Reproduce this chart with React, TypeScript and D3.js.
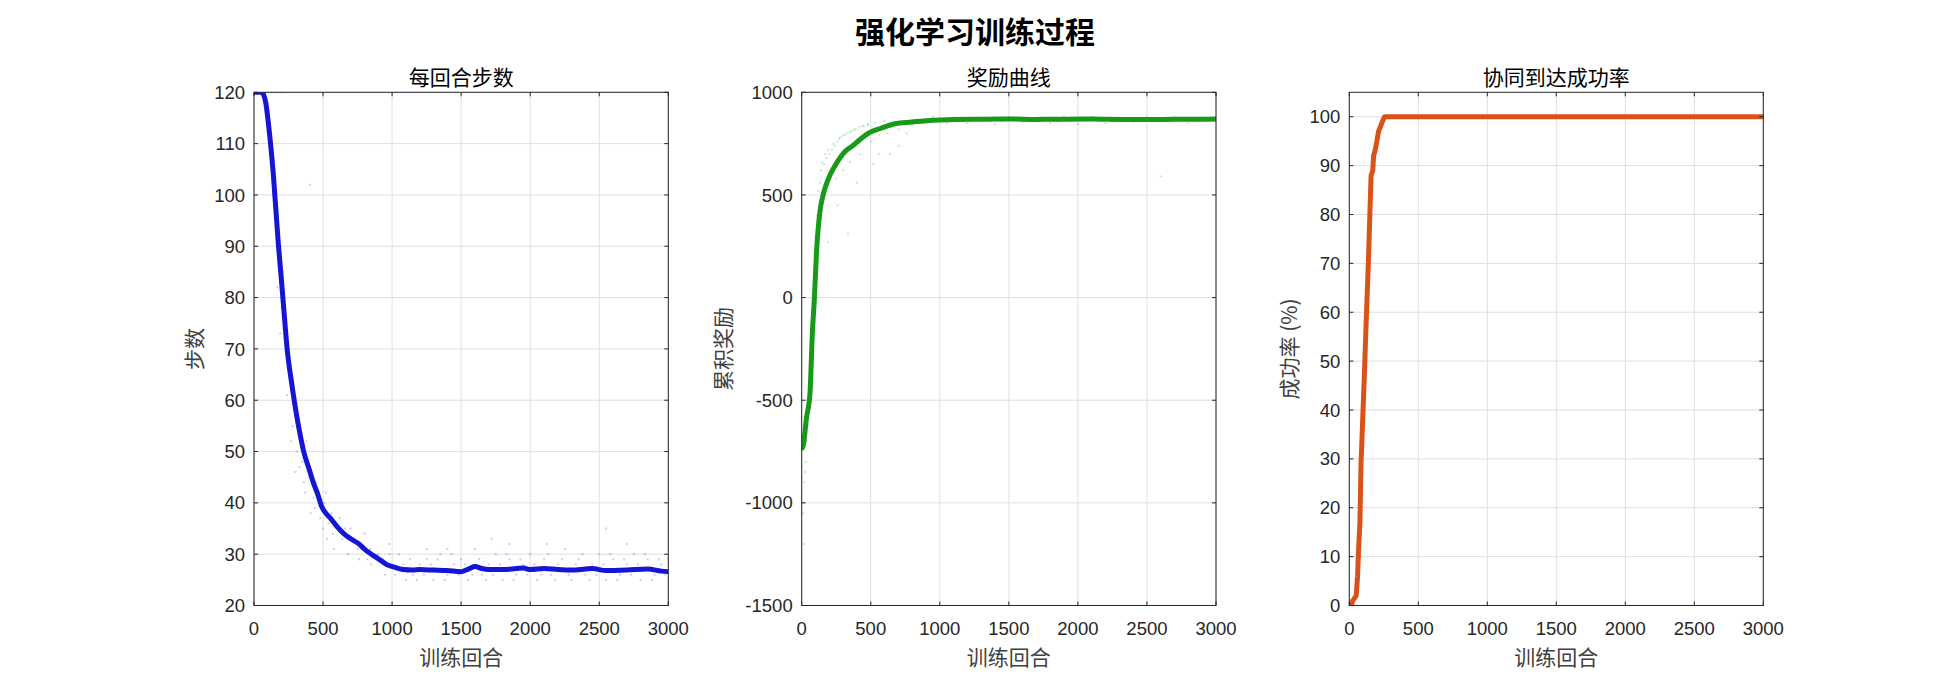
import * as d3 from "d3";

// episode axis shared by all three panels
const xTicks = [0, 500, 1000, 1500, 2000, 2500, 3000];

// 每回合步数 (moving average)
const stepsEp = [0, 55, 70, 85, 104, 140, 176, 200, 224, 240, 273, 309, 340, 357, 400, 429, 460, 490, 520, 560, 600, 650, 700, 760, 800, 850, 912, 960, 1000, 1081, 1150, 1200, 1300, 1400, 1500, 1560, 1600, 1650, 1700, 1800, 1900, 1950, 2000, 2100, 2200, 2300, 2400, 2450, 2550, 2700, 2850, 2950, 3000];
const stepsVal = [120, 120, 119.5, 118, 114, 104, 90.5, 83, 75, 70, 63.3, 57, 52.5, 50.3, 46.5, 44, 41.8, 39.3, 38, 36.8, 35.4, 34, 33, 32, 31, 30, 28.9, 28, 27.6, 27, 26.9, 27, 26.9, 26.8, 26.6, 27.2, 27.6, 27.2, 27, 27, 27.2, 27.3, 27, 27.2, 27, 26.9, 27.1, 27.2, 26.8, 26.9, 27.1, 26.7, 26.6];
const stepsTicks = [20, 30, 40, 50, 60, 70, 80, 90, 100, 110, 120];

// raw episode steps (faint dots)
const stepsRaw: [number, number][] = [
  [10, 120], [40, 120], [80, 120], [120, 120], [160, 120], [200, 120],
  [100, 112], [120, 108], [140, 100], [150, 105], [160, 97], [180, 93], [190, 88], [210, 85], [170, 82], [200, 78],
  [230, 75], [190, 73], [250, 68], [220, 72], [260, 66], [240, 61], [290, 60], [280, 55], [270, 52], [330, 54],
  [310, 50], [350, 48], [380, 52], [300, 46], [400, 45], [370, 42], [430, 41], [450, 44], [410, 38], [480, 37],
  [520, 42], [500, 35], [560, 38], [530, 33], [600, 36], [640, 33], [580, 31], [700, 35], [680, 30], [750, 31],
  [800, 34], [760, 29], [850, 28], [900, 30], [820, 29], [950, 26], [1000, 28], [1050, 30], [1100, 25], [1150, 26],
  [1200, 28], [1250, 29], [1300, 25], [1350, 30], [1400, 26], [1450, 28], [1500, 29], [1550, 25], [1600, 31],
  [1650, 26], [1700, 28], [1750, 30], [1800, 25], [1850, 29], [1900, 26], [1950, 28], [2000, 30], [2050, 25],
  [2100, 29], [2150, 26], [2200, 28], [2250, 31], [2300, 25], [2350, 29], [2400, 26], [2450, 28], [2500, 30],
  [2550, 25], [2600, 29], [2650, 26], [2700, 28], [2750, 30], [2800, 25], [2850, 29], [2900, 26], [2950, 28],
  [3000, 29], [1720, 33], [2550, 35], [1400, 31], [405, 102],
  [330, 47], [360, 44], [390, 47], [440, 39], [470, 42], [510, 40], [540, 36], [570, 34], [620, 37], [660, 35],
  [720, 33], [780, 32], [840, 31], [880, 30], [930, 29], [980, 30], [1020, 26], [1080, 28], [1130, 29],
  [1180, 25], [1230, 26], [1280, 28], [1330, 29], [1380, 25], [1430, 30], [1480, 26], [1530, 28], [1580, 26],
  [1630, 29], [1680, 25], [1730, 26], [1780, 28], [1830, 30], [1880, 25], [1930, 29], [1980, 26], [2030, 28],
  [2080, 26], [2130, 30], [2180, 25], [2230, 29], [2280, 26], [2330, 28], [2380, 30], [2430, 25], [2480, 26],
  [2530, 28], [2580, 30], [2630, 25], [2680, 29], [2730, 26], [2780, 28], [2830, 30], [2880, 25], [2930, 29],
  [2980, 26], [2120, 32], [1850, 32], [2700, 32], [1250, 31], [980, 32],
];

// 奖励曲线
const rewardEp = [1, 5, 36, 60, 77, 91, 108, 133, 157, 193, 241, 314, 374, 422, 482, 579, 676, 796, 950, 1100, 1300, 1500, 1700, 1900, 2100, 2300, 2500, 2700, 2900, 3000];
const rewardVal = [-730, -733, -580, -466, -175, -13, 230, 424, 505, 578, 642, 712, 742, 770, 800, 826, 847, 855, 864, 867, 869, 870, 868, 869, 870, 868, 867, 869, 869, 870];
const rewardTicks = [-1500, -1000, -500, 0, 500, 1000];

const rewardRaw: [number, number][] = [
  [5, -1000], [10, -1050], [20, -900], [15, -1200], [30, -800], [40, -700], [50, -560], [60, -420], [70, -300],
  [80, -100], [90, 100], [100, 300], [110, 400], [120, 520], [130, 560], [140, 620], [160, 650], [180, 680],
  [200, 700], [220, 720], [240, 740], [260, 760], [280, 780], [300, 790], [330, 800], [360, 810], [390, 820],
  [420, 830], [450, 835], [480, 840], [150, 420], [200, 540], [250, 580], [300, 620], [350, 660], [420, 700],
  [500, 760], [560, 790], [620, 800], [700, 820], [800, 840], [900, 850], [1000, 855], [1200, 850], [1400, 845],
  [1600, 855], [1800, 850], [2000, 845], [2200, 850], [2400, 855], [2600, 590], [2800, 850], [3000, 855],
  [950, 880], [1100, 880], [1300, 878], [1500, 880], [1700, 878], [1900, 882], [2100, 880], [2300, 878],
  [2500, 880], [2700, 880], [2900, 878], [640, 700], [700, 740], [520, 650],
  [145, 658], [170, 700], [190, 720], [230, 750], [270, 775], [314, 793], [350, 805], [380, 815], [440, 835],
  [480, 845], [530, 850], [600, 860], [190, 270], [335, 311], [260, 450], [400, 560], [560, 700], [760, 800],
  [1050, 850], [1250, 860], [1450, 858], [1650, 860], [1850, 858], [2050, 860], [2250, 858], [2450, 860],
  [2650, 858], [2850, 860], [25, -850], [45, -620],
];

// 协同到达成功率
const successEp = [0, 15, 25, 50, 60, 68, 77, 85, 101, 109, 121, 138, 150, 158, 170, 176, 186, 200, 212, 226, 240, 255, 3000];
const successVal = [0, 0, 1, 2, 6, 12, 17, 29, 41, 47, 57, 70, 81, 88, 89, 92, 93, 95, 97, 98, 99, 100, 100];
const successTicks = [0, 10, 20, 30, 40, 50, 60, 70, 80, 90, 100];

const W = 1950;
const H = 675;
const TOP = 92.3;
const BOTTOM = 605.5;
const AXIS = "#262626";
const NUM_FONT = "'Liberation Sans', Arial, sans-serif";
const CJK_FONT = "'Noto Sans CJK SC', sans-serif";

interface PanelProps {
  id: string;
  left: number;
  right: number;
  yDomain: [number, number];
  yTicks: number[];
  title: string;
  yLabel: string;
  yLabelX: number;
  ep: number[];
  val: number[];
  raw?: [number, number][];
  color: string;
  smooth?: boolean;
}

function Panel({ id, left, right, yDomain, yTicks, title, yLabel, yLabelX, ep, val, raw, color, smooth }: PanelProps) {
  const x = d3.scaleLinear().domain([0, 3000]).range([left, right]);
  const y = d3.scaleLinear().domain(yDomain).range([BOTTOM, TOP]);
  const pts = ep.map((e, i) => [e, val[i]] as [number, number]);
  const line = d3
    .line<[number, number]>()
    .x((d) => x(d[0]))
    .y((d) => y(d[1]))
    .curve(smooth ? d3.curveMonotoneX : d3.curveLinear);
  const mid = (TOP + BOTTOM) / 2;
  const tl = 4;

  return (
    <g>
      <defs>
        <clipPath id={id}>
          <rect x={left} y={TOP} width={right - left} height={BOTTOM - TOP} />
        </clipPath>
      </defs>
      {xTicks.map((t) => (
        <line key={"gx" + t} x1={x(t)} x2={x(t)} y1={TOP} y2={BOTTOM} stroke="#dfdfdf" strokeWidth={1} />
      ))}
      {yTicks.map((t) => (
        <line key={"gy" + t} x1={left} x2={right} y1={y(t)} y2={y(t)} stroke="#dfdfdf" strokeWidth={1} />
      ))}
      <g clipPath={`url(#${id})`}>
        {raw?.map((d, i) => (
          <rect key={i} x={x(d[0]) - 1} y={y(d[1]) - 1} width={2} height={2} fill={color} opacity={0.22} />
        ))}
        <path d={line(pts) ?? ""} fill="none" stroke={color} strokeWidth={5} strokeLinejoin="round" strokeLinecap="round" />
      </g>
      <rect x={left} y={TOP} width={right - left} height={BOTTOM - TOP} fill="none" stroke={AXIS} strokeWidth={1} />
      {xTicks.map((t) => (
        <g key={"tx" + t}>
          <line x1={x(t)} x2={x(t)} y1={BOTTOM} y2={BOTTOM - tl} stroke={AXIS} />
          <line x1={x(t)} x2={x(t)} y1={TOP} y2={TOP + tl} stroke={AXIS} />
          <text x={x(t)} y={BOTTOM + 29} textAnchor="middle" fontFamily={NUM_FONT} fontSize={18.5} fill={AXIS}>
            {t}
          </text>
        </g>
      ))}
      {yTicks.map((t) => (
        <g key={"ty" + t}>
          <line x1={left} x2={left + tl} y1={y(t)} y2={y(t)} stroke={AXIS} />
          <line x1={right} x2={right - tl} y1={y(t)} y2={y(t)} stroke={AXIS} />
          <text x={left - 9} y={y(t) + 6.6} textAnchor="end" fontFamily={NUM_FONT} fontSize={18.5} fill={AXIS}>
            {t}
          </text>
        </g>
      ))}
      <text x={(left + right) / 2} y={84.7} textAnchor="middle" fontFamily={CJK_FONT} fontSize={21} fill="#000">
        {title}
      </text>
      <text x={(left + right) / 2} y={665} textAnchor="middle" fontFamily={CJK_FONT} fontSize={21} fill="#404040">
        训练回合
      </text>
      <text
        transform={`translate(${yLabelX + 8},${mid}) rotate(-90)`}
        textAnchor="middle"
        fontFamily={CJK_FONT}
        fontSize={21}
        fill="#404040"
      >
        {yLabel}
      </text>
    </g>
  );
}

export default function App() {
  return (
    <svg width={W} height={H} style={{ position: "absolute", left: 0, top: 0, background: "#fff" }}>
      <rect width={W} height={H} fill="#fff" />
      <text x={975} y={43} textAnchor="middle" fontFamily={CJK_FONT} fontSize={30} fontWeight={600} fill="#000">
        强化学习训练过程
      </text>
      <Panel id="c1" left={254} right={668.3} yDomain={[20, 120]} yTicks={stepsTicks} title="每回合步数" yLabel="步数" yLabelX={194} ep={stepsEp} val={stepsVal} raw={stepsRaw} color="#1515d6" smooth />
      <Panel id="c2" left={801.7} right={1216} yDomain={[-1500, 1000]} yTicks={rewardTicks} title="奖励曲线" yLabel="累积奖励" yLabelX={722.5} ep={rewardEp} val={rewardVal} raw={rewardRaw} color="#179a17" smooth />
      <Panel id="c3" left={1349.3} right={1763.3} yDomain={[0, 105]} yTicks={successTicks} title="协同到达成功率" yLabel="成功率 (%)" yLabelX={1289} ep={successEp} val={successVal} color="#d95319" />
    </svg>
  );
}
